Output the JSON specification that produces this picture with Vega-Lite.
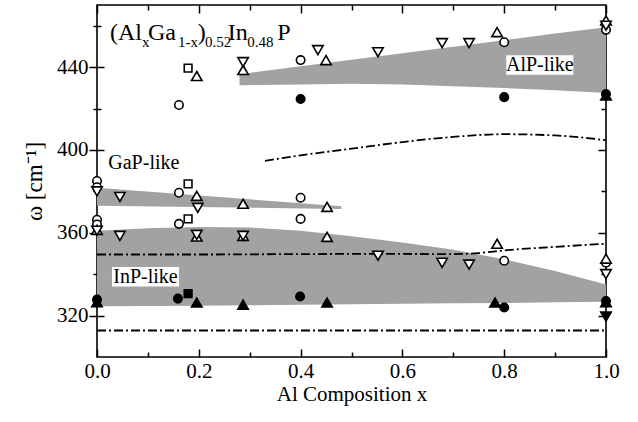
{
  "$schema": "https://vega.github.io/schema/vega-lite/v6.json",
  "width": 509,
  "height": 352,
  "autosize": "none",
  "padding": {"left": 97, "top": 5, "right": 32, "bottom": 65},
  "background": "white",
  "config": {
    "font": "Liberation Serif",
    "view": {"stroke": "black", "strokeWidth": 1.6},
    "axis": {"grid": false, "domain": false, "tickColor": "black", "labelColor": "black", "titleColor": "black", "labelFont": "Liberation Serif", "titleFont": "Liberation Serif", "titleFontWeight": "normal", "tickWidth": 1.5}
  },
  "datasets": {
    "areas": [
      {"band": "InP", "x": 0, "top": 361, "bottom": 324.5},
      {"band": "InP", "x": 0.1, "top": 362.2, "bottom": 324.6},
      {"band": "InP", "x": 0.2, "top": 362.8, "bottom": 324.8},
      {"band": "InP", "x": 0.3, "top": 362.5, "bottom": 325},
      {"band": "InP", "x": 0.4, "top": 361, "bottom": 325.2},
      {"band": "InP", "x": 0.5, "top": 358.3, "bottom": 325.5},
      {"band": "InP", "x": 0.6, "top": 355.3, "bottom": 325.7},
      {"band": "InP", "x": 0.7, "top": 351.8, "bottom": 325.9},
      {"band": "InP", "x": 0.8, "top": 347.2, "bottom": 326.1},
      {"band": "InP", "x": 0.9, "top": 341.5, "bottom": 326.4},
      {"band": "InP", "x": 1.0, "top": 335, "bottom": 326.7},
      {"band": "AlP", "x": 0.28, "top": 436.6, "bottom": 431.3},
      {"band": "AlP", "x": 0.4, "top": 440.4, "bottom": 431.6},
      {"band": "AlP", "x": 0.5, "top": 443.5, "bottom": 432},
      {"band": "AlP", "x": 0.6, "top": 446.7, "bottom": 431.6},
      {"band": "AlP", "x": 0.7, "top": 449.8, "bottom": 430.8},
      {"band": "AlP", "x": 0.8, "top": 453, "bottom": 429.9},
      {"band": "AlP", "x": 0.9, "top": 456.2, "bottom": 428.8},
      {"band": "AlP", "x": 1.0, "top": 459.3, "bottom": 427.5},
      {"band": "GaP", "x": 0, "top": 381.7, "bottom": 373},
      {"band": "GaP", "x": 0.48, "top": 372.8, "bottom": 371.5}
    ],
    "lines": [
      {"curve": "upper", "x": 0.33, "y": 394.7},
      {"curve": "upper", "x": 0.4, "y": 397.4},
      {"curve": "upper", "x": 0.5, "y": 400.6},
      {"curve": "upper", "x": 0.6, "y": 403.8},
      {"curve": "upper", "x": 0.7, "y": 406.3},
      {"curve": "upper", "x": 0.8, "y": 407.6},
      {"curve": "upper", "x": 0.9, "y": 407.0},
      {"curve": "upper", "x": 1.0, "y": 404.7},
      {"curve": "middle", "x": 0, "y": 349.5},
      {"curve": "middle", "x": 0.2, "y": 349.5},
      {"curve": "middle", "x": 0.4, "y": 349.7},
      {"curve": "middle", "x": 0.55, "y": 349.8},
      {"curve": "middle", "x": 0.7, "y": 349.7},
      {"curve": "middle", "x": 0.75, "y": 350.2},
      {"curve": "middle", "x": 0.8, "y": 351.5},
      {"curve": "middle", "x": 0.9, "y": 353.2},
      {"curve": "middle", "x": 1.0, "y": 354.7},
      {"curve": "lower", "x": 0, "y": 312.8},
      {"curve": "lower", "x": 1.0, "y": 312.8}
    ],
    "points": [
      {"x": 0, "y": 385, "sym": "circle", "fill": "open"},
      {"x": 0, "y": 382, "sym": "circle", "fill": "open"},
      {"x": 0.161, "y": 421.7, "sym": "circle", "fill": "open"},
      {"x": 0.4, "y": 443.4, "sym": "circle", "fill": "open"},
      {"x": 0.8, "y": 452, "sym": "circle", "fill": "open"},
      {"x": 1.0, "y": 458, "sym": "circle", "fill": "open"},
      {"x": 0.161, "y": 379.3, "sym": "circle", "fill": "open"},
      {"x": 0.4, "y": 376.9, "sym": "circle", "fill": "open"},
      {"x": 0.4, "y": 366.7, "sym": "circle", "fill": "open"},
      {"x": 0.161, "y": 364.3, "sym": "circle", "fill": "open"},
      {"x": 0, "y": 366.3, "sym": "circle", "fill": "open"},
      {"x": 0, "y": 364, "sym": "circle", "fill": "open"},
      {"x": 0.8, "y": 346.5, "sym": "circle", "fill": "open"},
      {"x": 1.0, "y": 345.5, "sym": "circle", "fill": "open"},
      {"x": 0.196, "y": 435.7, "sym": "up", "fill": "open"},
      {"x": 0.287, "y": 438.6, "sym": "up", "fill": "open"},
      {"x": 0.45, "y": 443.4, "sym": "up", "fill": "open"},
      {"x": 0.786, "y": 456.9, "sym": "up", "fill": "open"},
      {"x": 1.0, "y": 462.6, "sym": "up", "fill": "open"},
      {"x": 0.196, "y": 377.8, "sym": "up", "fill": "open"},
      {"x": 0.287, "y": 374, "sym": "up", "fill": "open"},
      {"x": 0.452, "y": 372.5, "sym": "up", "fill": "open"},
      {"x": 0.196, "y": 358.2, "sym": "up", "fill": "open"},
      {"x": 0.287, "y": 358.5, "sym": "up", "fill": "open"},
      {"x": 0.452, "y": 358, "sym": "up", "fill": "open"},
      {"x": 0, "y": 361.4, "sym": "up", "fill": "open"},
      {"x": 0.786, "y": 354.7, "sym": "up", "fill": "open"},
      {"x": 1.0, "y": 347.5, "sym": "up", "fill": "open"},
      {"x": 0.287, "y": 442.4, "sym": "down", "fill": "open"},
      {"x": 0.434, "y": 448.2, "sym": "down", "fill": "open"},
      {"x": 0.552, "y": 447.2, "sym": "down", "fill": "open"},
      {"x": 0.678, "y": 451.6, "sym": "down", "fill": "open"},
      {"x": 0.731, "y": 451.6, "sym": "down", "fill": "open"},
      {"x": 1.0, "y": 460, "sym": "down", "fill": "open"},
      {"x": 0, "y": 380, "sym": "down", "fill": "open"},
      {"x": 0.045, "y": 377.3, "sym": "down", "fill": "open"},
      {"x": 0.198, "y": 372, "sym": "down", "fill": "open"},
      {"x": 0.045, "y": 358.5, "sym": "down", "fill": "open"},
      {"x": 0.196, "y": 359, "sym": "down", "fill": "open"},
      {"x": 0.287, "y": 358.5, "sym": "down", "fill": "open"},
      {"x": 0, "y": 361, "sym": "down", "fill": "open"},
      {"x": 0.552, "y": 348.9, "sym": "down", "fill": "open"},
      {"x": 0.678, "y": 345.5, "sym": "down", "fill": "open"},
      {"x": 0.731, "y": 344.6, "sym": "down", "fill": "open"},
      {"x": 1.0, "y": 340, "sym": "down", "fill": "open"},
      {"x": 0.179, "y": 439.5, "sym": "square", "fill": "open"},
      {"x": 0.179, "y": 383.6, "sym": "square", "fill": "open"},
      {"x": 0.179, "y": 366.7, "sym": "square", "fill": "open"},
      {"x": 0.4, "y": 424.6, "sym": "circle", "fill": "solid"},
      {"x": 0.8, "y": 425.5, "sym": "circle", "fill": "solid"},
      {"x": 1.0, "y": 427, "sym": "circle", "fill": "solid"},
      {"x": 0, "y": 327.7, "sym": "circle", "fill": "solid"},
      {"x": 0.159, "y": 328.2, "sym": "circle", "fill": "solid"},
      {"x": 0.399, "y": 329.2, "sym": "circle", "fill": "solid"},
      {"x": 0.8, "y": 323.9, "sym": "circle", "fill": "solid"},
      {"x": 1.0, "y": 327, "sym": "circle", "fill": "solid"},
      {"x": 1.0, "y": 426.3, "sym": "up", "fill": "solid"},
      {"x": 0, "y": 326.5, "sym": "up", "fill": "solid"},
      {"x": 0.196, "y": 326.3, "sym": "up", "fill": "solid"},
      {"x": 0.287, "y": 325.3, "sym": "up", "fill": "solid"},
      {"x": 0.452, "y": 326.3, "sym": "up", "fill": "solid"},
      {"x": 0.782, "y": 326.3, "sym": "up", "fill": "solid"},
      {"x": 1.0, "y": 326.5, "sym": "up", "fill": "solid"},
      {"x": 0.179, "y": 330.6, "sym": "square", "fill": "solid"},
      {"x": 1.0, "y": 319.5, "sym": "down", "fill": "solid"}
    ],
    "labels": [
      {"x": 0.092, "y": 393.7, "text": "GaP-like", "boxed": false},
      {"x": 0.0953, "y": 338.8, "text": "InP-like", "boxed": true},
      {"x": 0.87, "y": 441, "text": "AlP-like", "boxed": true}
    ],
    "formula": [
      {"x": 0.0255, "y": 453.3, "text": "(Al", "part": "main"},
      {"x": 0.1002, "y": 453.3, "text": "Ga", "part": "main"},
      {"x": 0.198, "y": 453.3, "text": ")", "part": "main"},
      {"x": 0.257, "y": 453.3, "text": "In", "part": "main"},
      {"x": 0.354, "y": 453.3, "text": "P", "part": "main"},
      {"x": 0.0884, "y": 449.6, "text": "x", "part": "sub"},
      {"x": 0.159, "y": 449.6, "text": "1-x", "part": "sub"},
      {"x": 0.212, "y": 449.6, "text": "0.52", "part": "sub"},
      {"x": 0.295, "y": 449.6, "text": "0.48", "part": "sub"}
    ]
  },
  "resolve": {"axis": {"x": "independent", "y": "independent"}},
  "layer": [
    {
      "data": {"name": "areas"},
      "mark": {"type": "area", "color": "#a2a2a2", "opacity": 1},
      "encoding": {
        "x": {"field": "x", "type": "quantitative", "scale": {"domain": [0, 1], "nice": false, "zero": false},
          "axis": {"orient": "bottom", "values": [0, 0.1, 0.2, 0.3, 0.4, 0.5, 0.6, 0.7, 0.8, 0.9, 1.0], "format": ".1f",
            "labelExpr": "round(datum.value*10) % 2 === 0 ? datum.label : ''",
            "tickSize": {"condition": {"test": "round(datum.value*10) % 2 === 0", "value": -8}, "value": -5},
            "labelFontSize": 21, "labelPadding": 11, "labelFlush": false,
            "title": "Al Composition x", "titleFontSize": 21, "titlePadding": 2}},
        "y": {"field": "top", "type": "quantitative", "scale": {"domain": [300, 470], "nice": false, "zero": false},
          "axis": {"orient": "left", "values": [320, 340, 360, 380, 400, 420, 440, 460],
            "labelExpr": "datum.value % 40 === 0 ? datum.label : ''",
            "tickSize": {"condition": {"test": "datum.value % 40 === 0", "value": 8}, "value": 4},
            "labelFontSize": 21, "labelPadding": 1, "labelFlush": false,
            "title": "ω [cm⁻¹]", "titleFontSize": 23, "titlePadding": 10}},
        "y2": {"field": "bottom"},
        "detail": {"field": "band"}
      }
    },
    {
      "data": {"name": "lines"},
      "mark": {"type": "line", "color": "black", "strokeWidth": 1.8, "strokeDash": [9, 3, 2, 3], "interpolate": "monotone"},
      "encoding": {
        "x": {"field": "x", "type": "quantitative", "scale": {"domain": [0, 1], "nice": false, "zero": false},
          "axis": {"orient": "top", "values": [0, 0.1, 0.2, 0.3, 0.4, 0.5, 0.6, 0.7, 0.8, 0.9, 1.0], "labels": false,
            "tickSize": {"condition": {"test": "round(datum.value*10) % 2 === 0", "value": -8}, "value": -5}, "title": null}},
        "y": {"field": "y", "type": "quantitative", "scale": {"domain": [300, 470], "nice": false, "zero": false},
          "axis": {"orient": "right", "values": [320, 340, 360, 380, 400, 420, 440, 460], "labels": false,
            "tickSize": {"condition": {"test": "datum.value % 40 === 0", "value": -8}, "value": -5}, "title": null}},
        "detail": {"field": "curve"}
      }
    },
    {
      "data": {"name": "points"},
      "mark": {"type": "point", "strokeWidth": 1.6, "color": "black", "opacity": 1, "size": 121},
      "encoding": {
        "x": {"field": "x", "type": "quantitative", "scale": {"domain": [0, 1], "nice": false, "zero": false}, "axis": null},
        "y": {"field": "y", "type": "quantitative", "scale": {"domain": [300, 470], "nice": false, "zero": false},
          "axis": {"orient": "left", "values": [320, 340, 360, 380, 400, 420, 440, 460], "labels": false,
            "tickSize": {"condition": {"test": "datum.value % 40 === 0", "value": -7}, "value": -4}, "title": null}},
        "shape": {"field": "sym", "type": "nominal", "legend": null,
          "scale": {"domain": ["circle", "up", "down", "square"],
            "range": ["M0.77,0A0.77,0.77,0,1,1,-0.77,0A0.77,0.77,0,1,1,0.77,0Z", "M0,-0.82L0.95,0.82L-0.95,0.82Z", "M0,0.82L0.95,-0.82L-0.95,-0.82Z", "M-0.7,-0.7H0.7V0.7H-0.7Z"]}},
        "fill": {"field": "fill", "type": "nominal", "legend": null,
          "scale": {"domain": ["open", "solid"], "range": ["white", "black"]}},
        "fillOpacity": {"value": 1}
      }
    },
    {
      "data": {"name": "labels"},
      "transform": [{"filter": "datum.boxed"}],
      "mark": {"type": "point", "shape": "M-1,-0.29H1V0.29H-1Z", "size": 4500, "fill": "white", "fillOpacity": 1, "strokeWidth": 0, "opacity": 1},
      "encoding": {
        "x": {"field": "x", "type": "quantitative", "scale": {"domain": [0, 1], "nice": false, "zero": false}, "axis": null},
        "y": {"field": "y", "type": "quantitative", "scale": {"domain": [300, 470], "nice": false, "zero": false}, "axis": null}
      }
    },
    {
      "data": {"name": "labels"},
      "mark": {"type": "text", "fontSize": 20, "font": "Liberation Serif", "color": "black", "align": "center", "baseline": "middle"},
      "encoding": {
        "x": {"field": "x", "type": "quantitative", "scale": {"domain": [0, 1], "nice": false, "zero": false}, "axis": null},
        "y": {"field": "y", "type": "quantitative", "scale": {"domain": [300, 470], "nice": false, "zero": false}, "axis": null},
        "text": {"field": "text"}
      }
    },
    {
      "data": {"name": "formula"},
      "transform": [{"filter": "datum.part === 'main'"}],
      "mark": {"type": "text", "fontSize": 24, "font": "Liberation Serif", "color": "black", "align": "left", "baseline": "alphabetic"},
      "encoding": {
        "x": {"field": "x", "type": "quantitative", "scale": {"domain": [0, 1], "nice": false, "zero": false}, "axis": null},
        "y": {"field": "y", "type": "quantitative", "scale": {"domain": [300, 470], "nice": false, "zero": false}, "axis": null},
        "text": {"field": "text"}
      }
    },
    {
      "data": {"name": "formula"},
      "transform": [{"filter": "datum.part === 'sub'"}],
      "mark": {"type": "text", "fontSize": 15, "font": "Liberation Serif", "color": "black", "align": "left", "baseline": "alphabetic"},
      "encoding": {
        "x": {"field": "x", "type": "quantitative", "scale": {"domain": [0, 1], "nice": false, "zero": false}, "axis": null},
        "y": {"field": "y", "type": "quantitative", "scale": {"domain": [300, 470], "nice": false, "zero": false}, "axis": null},
        "text": {"field": "text"}
      }
    }
  ]
}
